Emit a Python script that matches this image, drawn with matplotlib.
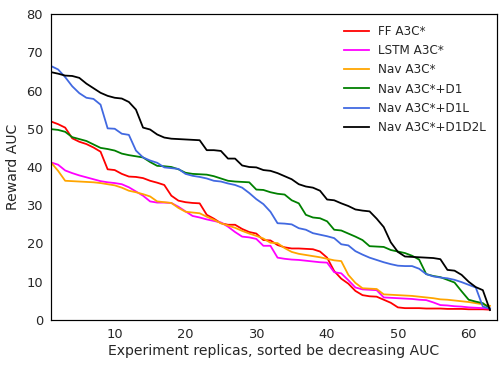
import matplotlib
matplotlib.use("Agg")
import matplotlib.pyplot as plt
import numpy as np

labels = ["FF A3C*", "LSTM A3C*", "Nav A3C*", "Nav A3C*+D1", "Nav A3C*+D1L", "Nav A3C*+D1D2L"]
colors = ["#ff0000", "#ff00ff", "#ffa500", "#008000", "#4169e1", "#000000"]

ff = [51.9, 51.2, 50.3, 47.5, 46.6, 46.0, 45.1, 44.0, 39.4, 39.2, 38.2, 37.5, 37.4, 37.1, 36.4,
      35.9, 35.3, 32.5, 31.2, 30.8, 30.6, 30.5, 27.5, 26.5, 25.3, 24.9, 24.9, 23.8, 23.0, 22.6,
      20.9, 20.8, 19.6, 19.0, 18.7, 18.7, 18.6, 18.5, 17.9, 16.3, 12.8, 10.8, 9.5, 7.6, 6.5,
      6.2, 6.1, 5.3, 4.5, 3.3, 3.1, 3.1, 3.1, 3.0, 3.0, 3.0, 2.9, 2.9, 2.9, 2.8, 2.8, 2.8, 2.7]
lstm = [41.2, 40.6, 39.1, 38.4, 37.8, 37.3, 36.8, 36.3, 36.0, 35.8, 35.5, 34.7, 33.6, 32.5, 31.0,
        30.7, 30.7, 30.6, 29.6, 28.4, 27.2, 26.8, 26.3, 25.9, 25.5, 24.4, 23.0, 21.8, 21.6, 21.2,
        19.4, 19.4, 16.3, 16.0, 15.8, 15.7, 15.5, 15.3, 15.1, 15.0, 12.5, 12.2, 10.4, 8.5, 8.0,
        7.9, 7.8, 5.9, 5.8, 5.7, 5.6, 5.5, 5.3, 5.2, 4.6, 3.9, 3.8, 3.6, 3.5, 3.3, 3.2, 3.1, 3.0]
nav = [41.2, 39.0, 36.4, 36.3, 36.2, 36.1, 36.0, 35.8, 35.5, 35.2, 34.6, 33.8, 33.4, 32.9, 32.3,
       31.0, 30.8, 30.6, 29.3, 28.3, 28.1, 27.9, 27.0, 26.2, 25.3, 24.7, 24.1, 23.3, 22.6, 22.0,
       21.3, 20.2, 20.1, 18.8, 17.8, 17.3, 17.0, 16.7, 16.4, 16.0, 15.6, 15.4, 11.8, 9.7, 8.3,
       8.2, 8.1, 6.7, 6.6, 6.5, 6.4, 6.3, 6.1, 5.9, 5.7, 5.4, 5.3, 5.1, 4.9, 4.7, 4.4, 4.1, 3.7]
nav_d1 = [49.9, 49.7, 49.2, 47.8, 47.3, 46.8, 45.9, 45.0, 44.7, 44.3, 43.5, 43.1, 42.8, 42.5, 41.3,
          40.3, 40.2, 40.0, 39.4, 38.5, 38.2, 38.1, 38.0, 37.6, 37.0, 36.4, 36.2, 36.1, 36.0, 34.1,
          34.0, 33.4, 33.0, 32.8, 31.3, 30.5, 27.5, 26.8, 26.6, 25.8, 23.6, 23.4, 22.6, 21.8, 20.9,
          19.3, 19.2, 19.1, 18.3, 17.9, 17.5, 16.8, 15.8, 12.0, 11.5, 11.2, 10.5, 9.8, 7.5, 5.3,
          4.8, 4.4, 3.0]
nav_d1l = [66.4, 65.5, 63.5, 61.1, 59.3, 58.1, 57.8, 56.3, 50.1, 50.0, 48.7, 48.4, 44.3, 42.5, 41.7,
           41.1, 39.9, 39.7, 39.5, 38.2, 37.7, 37.4, 37.0, 36.4, 36.2, 35.7, 35.3, 34.6, 33.2, 31.6,
           30.3, 28.3, 25.3, 25.2, 25.0, 24.0, 23.6, 22.7, 22.3, 21.9, 21.4, 19.8, 19.5, 18.0, 17.1,
           16.3, 15.7, 15.1, 14.6, 14.2, 14.1, 14.1, 13.4, 12.0, 11.4, 11.1, 10.9, 10.5, 9.9, 9.2,
           8.5, 3.5, 3.0]
nav_d1d2l = [64.8, 64.4, 63.9, 63.8, 63.3, 61.8, 60.6, 59.4, 58.6, 58.1, 57.9, 57.0, 55.0, 50.3, 49.8,
             48.5, 47.7, 47.4, 47.3, 47.2, 47.1, 47.0, 44.4, 44.4, 44.2, 42.2, 42.2, 40.4, 40.0, 39.9,
             39.2, 39.0, 38.4, 37.6, 36.8, 35.5, 34.9, 34.6, 33.8, 31.5, 31.3, 30.5, 29.8, 28.9, 28.6,
             28.4, 26.5, 24.3, 20.3, 17.8, 16.6, 16.5, 16.4, 16.3, 16.2, 15.9, 13.1, 12.9, 11.8, 10.0,
             8.6, 7.8, 2.6]

series = [ff, lstm, nav, nav_d1, nav_d1l, nav_d1d2l]
replicas = np.arange(1, len(ff) + 1)
xticks = [10, 20, 30, 40, 50, 60]
yticks = [0, 10, 20, 30, 40, 50, 60, 70, 80]

text_color = "#262626"
fig = plt.figure(figsize=(504 / 72, 368 / 72), dpi=72)
ax = fig.add_axes([51 / 504, 48 / 368, 446 / 504, 306 / 368])

for vals, lab, col in zip(series, labels, colors):
    ax.plot(replicas, vals, color=col, lw=1.8, label=lab)

ax.set_xlim(1, 64)
ax.set_ylim(0, 80)
ax.set_xticks(xticks)
ax.set_yticks(yticks)
ax.tick_params(length=0, pad=8, labelsize=13, colors=text_color)
for s in ax.spines.values():
    s.set_color("black")
    s.set_linewidth(1.2)
ax.set_xlabel("Experiment replicas, sorted be decreasing AUC", fontsize=14, color=text_color, labelpad=3)
ax.set_ylabel("Reward AUC", fontsize=14, color=text_color, labelpad=6)

leg = ax.legend(loc="upper right", frameon=False, fontsize=12, handlelength=2.1,
                labelspacing=0.52, borderaxespad=0.5)
for t in leg.get_texts():
    t.set_color(text_color)

fig.savefig("out.png", dpi=72)
